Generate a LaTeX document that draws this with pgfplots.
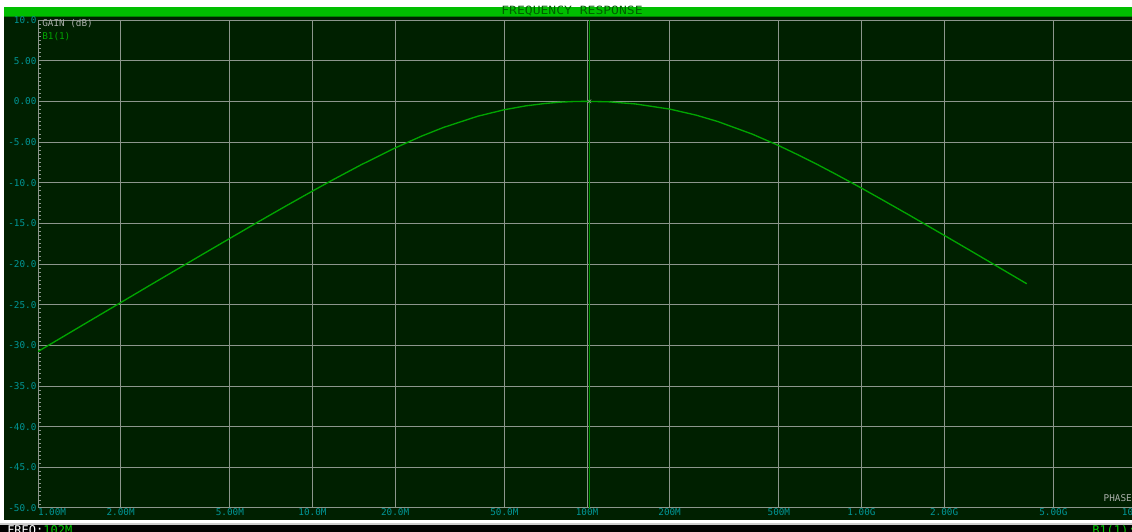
\documentclass[border=0pt]{standalone}
\usepackage{fontspec}
\usepackage{pgfplots}
\pgfplotsset{compat=1.18}
\newfontfamily\pix{DejaVu Sans Mono}
\definecolor{bgdark}{RGB}{0,32,0}
\definecolor{barg}{RGB}{0,190,0}
\definecolor{titletxt}{RGB}{0,95,0}
\definecolor{gridc}{RGB}{140,150,140}
\definecolor{curvec}{RGB}{0,165,0}
\definecolor{tealc}{RGB}{0,150,150}
\definecolor{cursorc}{RGB}{0,150,0}
\definecolor{lbl}{RGB}{170,175,170}
\pgfplotstableread{
f g
1 -30.76
1.2 -29.18
1.5 -27.24
2 -24.75
2.5 -22.81
3 -21.24
4 -18.76
5 -16.85
6 -15.29
7 -13.99
8 -12.87
10 -11.03
12 -9.56
15 -7.82
20 -5.73
25 -4.27
30 -3.21
40 -1.83
50 -1.03
60 -0.55
70 -0.27
80 -0.10
90 -0.02
100 0
120 -0.06
150 -0.32
200 -0.95
250 -1.70
300 -2.49
400 -4.03
500 -5.45
600 -6.73
700 -7.87
800 -8.90
1000 -10.67
1200 -12.17
1500 -14.03
2000 -16.47
2500 -18.38
3000 -19.95
3500 -21.28
4000 -22.43
}\gaindata
\begin{document}
\begin{tikzpicture}
\path[use as bounding box] (0,0) rectangle (849pt,399pt);
\clip (0,0) rectangle (849pt,399pt);
\begin{scope}[x=0.75pt,y=0.75pt]
\fill[white] (0,0) rectangle (1132,532);
\fill[bgdark] (4,12) rectangle (1132,515);
\fill[barg] (4,515) rectangle (1132,525);
\draw[titletxt!60!barg, line width=0.75pt] (4,515.5) -- (1132,515.5);
\node[font=\pix\fontsize{8.5}{9}\selectfont, text=titletxt, xscale=1.15] at (572,520.5) {FREQUENCY RESPONSE};
\fill[black] (0,0) rectangle (1132,7);
\fill[gray!40] (0,7) rectangle (1132,8.5);
\end{scope}
\begin{axis}[
  at={(28.5pt,18pt)}, anchor=south west,
  scale only axis, width=823.5pt, height=366pt,
  xmode=log, xmin=1, xmax=10000, ymin=-50, ymax=10,
  xtick={1,2,5,10,20,50,100,200,500,1000,2000,5000,10000},
  xticklabels={\makebox[0pt][l]{1.00M},2.00M,5.00M,10.0M,20.0M,50.0M,100M,200M,500M,1.00G,2.00G,5.00G,10.0G},
  ytick={-50,-45,...,10},
  yticklabels={-50.0,-45.0,-40.0,-35.0,-30.0,-25.0,-20.0,-15.0,-10.0,-5.00,0.00,5.00,10.0},
  minor y tick num=9,
  xminorticks=false,
  grid=major,
  major grid style={gridc, line width=0.75pt},
  axis line style={gridc, line width=0.75pt},
  major tick length=0pt,
  minor tick length=2.2pt,
  minor tick style={gridc, line width=0.5pt},
  tick align=inside,
  ytick pos=left, xtick pos=bottom,
  xticklabel style={font=\pix\fontsize{7}{7}\selectfont, text=tealc, inner sep=0.5pt, anchor=north},
  yticklabel style={font=\pix\fontsize{7}{7}\selectfont, text=tealc, inner sep=1pt},
]
\addplot[curvec, line width=1pt, no markers] table[x=f,y=g] {\gaindata};
\addplot[cursorc, line width=1pt, no markers] coordinates {(102,-50) (102,10)};
\addplot[gridc, only marks, mark=x, mark size=2pt] coordinates {(102,0)};
\end{axis}
\begin{scope}[x=0.75pt,y=0.75pt]
\node[anchor=west, font=\pix\fontsize{7}{7}\selectfont, text=lbl, inner sep=0] at (42,508) {GAIN (dB)};
\node[anchor=west, font=\pix\fontsize{7}{7}\selectfont, text=curvec, inner sep=0] at (42,495) {B1(1)};
\node[anchor=east, font=\pix\fontsize{7}{7}\selectfont, text=lbl, inner sep=0] at (1132,34) {PHASE};
\node[anchor=base west, font=\pix\fontsize{9}{9}\selectfont, inner sep=0] at (7,-2.5) {{\color{white}FREQ:}{\color{green!80!black}102M}};
\node[anchor=base west, font=\pix\fontsize{9}{9}\selectfont, inner sep=0, text=green!80!black] at (1092,-2.5) {B1(1):-7.2};
\end{scope}
\end{tikzpicture}
\end{document}
